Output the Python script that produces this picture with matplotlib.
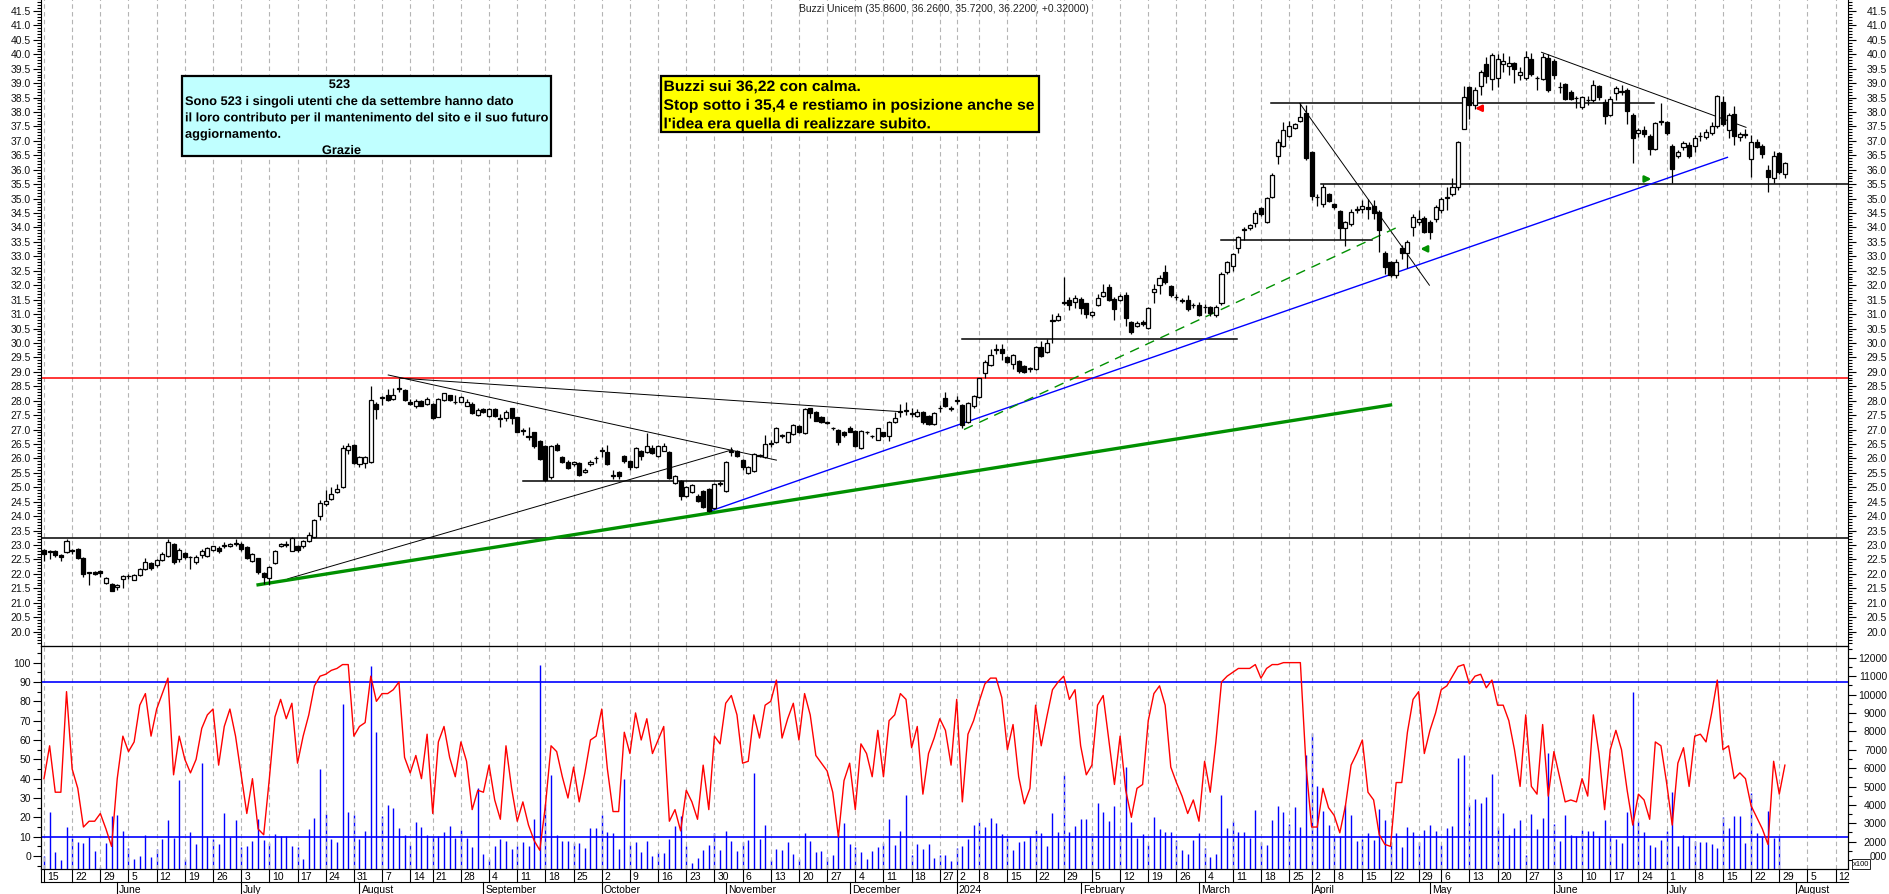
import numpy as np
import pandas as pd
import matplotlib
matplotlib.use("Agg")
import matplotlib.pyplot as plt
from matplotlib import transforms
from matplotlib.lines import Line2D
from matplotlib.patches import Rectangle, PathPatch
from matplotlib.textpath import TextPath
from matplotlib.font_manager import FontProperties

# ---- data ----
holidays = ["2023-08-15", "2023-12-25", "2023-12-26", "2024-01-01",
            "2024-03-29", "2024-04-01", "2024-05-01"]

opens = [
    22.83, 22.78, 22.78, 22.65, 22.75, 22.81, 22.86, 22.55, 22.03, 22.07,
    22.09, 21.69, 21.65, 21.53, 21.83, 21.92, 21.80, 21.96, 22.17, 22.38,
    22.31, 22.49, 22.63, 23.04, 22.52, 22.72, 22.57, 22.40, 22.66, 22.61,
    22.81, 22.90, 22.98, 22.96, 23.04, 23.04, 22.92, 22.46, 22.54, 22.02,
    21.85, 22.38, 22.97, 23.00, 22.80, 22.95, 22.98, 23.15, 23.27, 24.02,
    24.42, 24.60, 24.83, 25.00, 26.29, 26.47, 25.81, 25.83, 25.89, 27.89,
    28.10, 28.18, 28.06, 28.41, 28.37, 27.97, 27.80, 27.99, 27.89, 27.89,
    27.45, 28.03, 28.18, 27.95, 27.97, 27.83, 27.89, 27.52, 27.71, 27.48,
    27.71, 27.37, 27.39, 27.73, 27.42, 26.98, 26.79, 26.90, 26.61, 26.42,
    25.34, 26.46, 26.04, 25.86, 25.79, 25.84, 25.52, 25.79, 26.00, 26.27,
    26.21, 25.40, 25.52, 26.07, 25.92, 25.69, 26.27, 26.23, 26.35, 26.07,
    26.27, 26.21, 25.15, 25.23, 24.69, 24.82, 24.71, 24.88, 24.94, 24.27,
    25.11, 24.88, 26.23, 26.24, 25.94, 25.49, 25.57, 26.10, 26.04, 26.50,
    26.58, 26.79, 26.56, 26.85, 27.13, 26.87, 27.73, 27.60, 27.45, 27.23,
    27.04, 26.98, 26.93, 27.04, 26.96, 26.35, 26.90, 26.76, 26.65, 26.90,
    26.79, 27.25, 27.62, 27.65, 27.54, 27.46, 27.60, 27.48, 27.19, 27.73,
    28.08, 27.71, 28.00, 27.85, 27.25, 27.80, 28.12, 28.96, 29.24, 29.77,
    29.79, 29.50, 29.27, 29.38, 29.21, 29.08, 29.09, 29.85, 29.70, 30.75,
    30.81, 31.38, 31.50, 31.41, 31.52, 31.37, 30.97, 31.32, 31.62, 31.93,
    31.52, 31.50, 31.66, 30.72, 30.60, 30.72, 30.51, 31.78, 31.99, 32.45,
    31.96, 31.58, 31.47, 31.50, 31.30, 31.30, 31.24, 31.24, 30.97, 31.37,
    32.45, 32.68, 33.28, 33.93, 33.97, 34.15, 34.68, 34.18, 35.05, 36.47,
    36.81, 37.18, 37.44, 37.70, 37.97, 36.60, 35.05, 34.82, 35.16, 34.82,
    34.58, 33.97, 34.12, 34.62, 34.65, 34.70, 34.75, 34.55, 33.10, 32.80,
    32.35, 33.30, 33.10, 34.01, 34.20, 34.32, 34.20, 34.30, 34.59, 35.02,
    35.16, 35.39, 37.42, 38.86, 38.25, 38.90, 39.67, 39.15, 39.17, 39.67,
    39.61, 39.70, 39.29, 39.17, 39.84, 39.17, 39.15, 39.86, 39.78, 38.86,
    38.97, 38.71, 38.48, 38.17, 38.40, 38.40, 38.89, 38.36, 37.88, 38.66,
    38.71, 38.78, 37.90, 37.27, 37.38, 37.18, 36.72, 37.67, 37.67, 36.84,
    36.47, 36.78, 36.87, 36.84, 37.16, 37.13, 37.28, 37.51, 38.36, 37.39,
    37.94, 37.13, 37.22, 36.38, 36.95, 36.84, 36.00, 35.71, 36.57, 35.86,
]
highs = [
    22.87, 22.82, 22.82, 22.70, 23.22, 22.87, 22.90, 22.58, 22.06, 22.10,
    22.15, 21.90, 21.68, 21.65, 21.96, 22.00, 22.00, 22.20, 22.55, 22.40,
    22.52, 22.75, 23.20, 23.06, 22.88, 22.76, 22.62, 22.65, 22.85, 22.94,
    22.98, 22.95, 23.12, 23.08, 23.22, 23.12, 22.95, 22.72, 22.56, 22.05,
    22.28, 22.82, 23.08, 23.14, 23.26, 23.00, 23.18, 23.45, 23.90, 24.55,
    24.90, 25.00, 25.10, 26.45, 26.55, 26.50, 26.08, 26.08, 28.50, 27.95,
    28.15, 28.40, 28.45, 28.78, 28.40, 28.05, 28.05, 28.02, 28.12, 27.92,
    28.10, 28.28, 28.20, 28.18, 28.15, 28.05, 27.95, 27.75, 27.74, 27.74,
    27.74, 27.55, 27.66, 27.75, 27.45, 27.05, 27.10, 26.93, 26.63, 26.45,
    26.45, 26.55, 26.08, 25.95, 25.92, 25.88, 25.65, 25.95, 26.10, 26.40,
    26.45, 25.60, 25.55, 26.12, 25.95, 26.38, 26.30, 26.88, 26.45, 26.45,
    26.55, 26.24, 25.42, 25.26, 25.05, 25.12, 24.75, 24.92, 24.98, 25.15,
    25.20, 25.92, 26.40, 26.30, 25.97, 25.72, 26.18, 26.15, 26.80, 26.65,
    27.08, 26.85, 26.93, 27.20, 27.16, 27.75, 27.76, 27.63, 27.48, 27.28,
    27.10, 27.01, 26.96, 27.12, 26.99, 26.99, 26.95, 26.82, 27.07, 26.93,
    27.28, 27.60, 27.90, 27.95, 27.75, 27.70, 27.63, 27.51, 27.60, 27.85,
    28.30, 27.80, 28.15, 27.88, 27.95, 28.18, 28.80, 29.40, 29.78, 29.95,
    29.95, 29.55, 29.62, 29.42, 29.25, 29.18, 29.90, 30.05, 30.13, 31.00,
    31.05, 32.27, 31.58, 31.65, 31.58, 31.40, 31.10, 31.70, 32.05, 32.05,
    31.60, 31.70, 31.75, 30.75, 30.75, 30.78, 31.25, 32.05, 32.35, 32.70,
    32.00, 31.70, 31.55, 31.65, 31.40, 31.42, 31.35, 31.28, 31.30, 32.45,
    32.85, 33.12, 33.72, 34.00, 34.12, 34.60, 34.72, 35.06, 35.88, 37.05,
    37.65, 37.70, 37.62, 38.30, 38.25, 36.65, 35.15, 35.50, 35.20, 34.85,
    34.62, 34.22, 34.65, 34.75, 34.95, 35.00, 34.95, 34.60, 33.20, 32.85,
    32.90, 33.40, 33.55, 34.45, 34.60, 34.40, 34.25, 34.78, 35.05, 35.40,
    35.70, 37.00, 38.90, 38.90, 38.85, 39.45, 39.90, 40.05, 40.00, 40.05,
    39.95, 39.75, 39.55, 40.10, 40.05, 39.25, 40.05, 40.00, 39.85, 39.05,
    39.00, 38.75, 38.55, 38.55, 38.55, 39.10, 38.95, 38.45, 38.55, 38.90,
    38.95, 38.82, 37.95, 37.45, 37.50, 37.25, 37.65, 38.30, 37.70, 36.90,
    36.70, 37.00, 36.95, 37.20, 37.30, 37.40, 37.65, 38.60, 38.55, 37.95,
    38.20, 37.30, 37.40, 37.20, 37.05, 36.90, 36.15, 36.65, 36.60, 36.26,
]
lows = [
    22.43, 22.50, 22.60, 22.46, 22.72, 22.70, 22.50, 21.90, 21.62, 21.95,
    21.90, 21.65, 21.40, 21.45, 21.50, 21.83, 21.78, 21.92, 22.15, 22.12,
    22.25, 22.45, 22.60, 22.35, 22.40, 22.50, 22.17, 22.35, 22.55, 22.58,
    22.78, 22.72, 22.90, 22.92, 22.98, 22.80, 22.50, 22.40, 22.00, 21.65,
    21.60, 22.35, 22.92, 22.92, 22.78, 22.75, 22.90, 23.12, 23.25, 23.85,
    24.35, 24.55, 24.80, 24.98, 26.15, 25.80, 25.70, 25.68, 25.85, 27.35,
    27.85, 28.00, 28.02, 28.30, 27.98, 27.85, 27.75, 27.80, 27.85, 27.35,
    27.42, 28.00, 28.00, 27.90, 27.94, 27.80, 27.54, 27.48, 27.57, 27.45,
    27.45, 27.10, 27.30, 27.20, 26.90, 26.80, 26.65, 26.35, 25.95, 25.22,
    25.30, 26.25, 25.85, 25.62, 25.75, 25.40, 25.48, 25.75, 25.85, 26.05,
    25.78, 25.30, 25.30, 25.85, 25.60, 25.66, 25.95, 26.20, 26.15, 26.04,
    26.24, 25.28, 25.12, 24.55, 24.66, 24.80, 24.50, 24.28, 24.15, 24.24,
    25.05, 24.85, 26.10, 26.04, 25.60, 25.45, 25.54, 26.05, 26.00, 26.40,
    26.55, 26.70, 26.53, 26.82, 26.87, 26.84, 27.40, 27.28, 27.24, 27.18,
    26.98, 26.45, 26.75, 26.90, 26.38, 26.32, 26.85, 26.70, 26.62, 26.73,
    26.60, 27.22, 27.45, 27.50, 27.45, 27.42, 27.20, 27.16, 27.16, 27.60,
    27.77, 27.65, 27.90, 27.05, 27.22, 27.75, 28.10, 28.80, 29.20, 29.60,
    29.40, 29.30, 29.10, 28.95, 28.95, 29.00, 29.05, 29.52, 29.65, 30.00,
    30.75, 31.30, 31.15, 31.20, 31.00, 30.85, 30.90, 31.28, 31.58, 31.45,
    30.80, 31.45, 30.60, 30.30, 30.55, 30.60, 30.48, 31.40, 31.70, 32.05,
    31.60, 31.50, 31.40, 31.10, 31.20, 30.92, 31.05, 30.95, 30.90, 31.33,
    32.40, 32.50, 33.10, 33.55, 33.90, 34.00, 34.40, 34.15, 35.02, 36.20,
    36.78, 37.15, 37.40, 37.65, 36.35, 34.95, 34.75, 34.70, 34.88, 34.65,
    33.60, 33.37, 34.05, 34.50, 34.50, 34.30, 34.30, 33.15, 32.40, 32.30,
    32.25, 32.90, 32.60, 33.70, 34.10, 33.80, 33.60, 34.20, 34.50, 34.60,
    35.10, 35.30, 37.40, 37.75, 38.10, 38.60, 39.00, 38.75, 38.85, 39.40,
    39.30, 39.00, 39.10, 39.10, 39.25, 38.75, 39.10, 38.70, 39.15, 38.65,
    38.40, 38.40, 38.15, 38.10, 38.25, 38.35, 38.40, 37.60, 37.85, 38.40,
    38.60, 37.60, 36.25, 37.15, 37.15, 36.50, 36.70, 37.55, 37.20, 35.55,
    36.40, 36.70, 36.40, 36.60, 37.00, 37.05, 37.20, 37.45, 37.50, 37.10,
    36.85, 37.00, 37.10, 35.75, 36.75, 36.40, 35.22, 35.55, 35.85, 35.72,
]
closes = [
    22.69, 22.75, 22.67, 22.60, 23.15, 22.80, 22.55, 22.00, 22.03, 22.00,
    22.02, 21.85, 21.42, 21.60, 21.94, 21.92, 21.96, 22.17, 22.40, 22.20,
    22.49, 22.69, 23.10, 22.40, 22.84, 22.57, 22.57, 22.60, 22.78, 22.90,
    22.95, 22.78, 22.98, 23.04, 23.04, 22.86, 22.54, 22.69, 22.06, 21.90,
    22.23, 22.78, 23.04, 23.00, 23.23, 22.84, 23.13, 23.33, 23.85, 24.45,
    24.54, 24.77, 24.94, 26.36, 26.42, 25.84, 26.04, 26.04, 28.03, 27.72,
    28.10, 28.04, 28.18, 28.41, 28.03, 27.88, 27.99, 27.83, 28.06, 27.39,
    28.06, 28.26, 28.03, 27.95, 28.12, 27.97, 27.58, 27.69, 27.60, 27.71,
    27.48, 27.37, 27.62, 27.39, 26.93, 26.96, 26.73, 26.44, 25.98, 25.25,
    26.42, 26.30, 25.89, 25.67, 25.89, 25.44, 25.61, 25.89, 26.00, 26.27,
    25.81, 25.40, 25.38, 25.92, 25.69, 26.35, 26.10, 26.42, 26.18, 26.42,
    26.44, 25.31, 25.38, 24.71, 25.00, 25.08, 24.54, 24.30, 24.19, 25.11,
    25.11, 25.89, 26.23, 26.07, 25.69, 25.69, 26.15, 26.10, 26.50, 26.50,
    27.04, 26.79, 26.90, 27.16, 26.90, 27.71, 27.57, 27.31, 27.27, 27.23,
    27.04, 26.58, 26.81, 26.93, 26.42, 26.96, 26.90, 26.76, 27.04, 26.76,
    27.25, 27.39, 27.62, 27.65, 27.54, 27.62, 27.25, 27.19, 27.56, 27.73,
    27.80, 27.71, 28.00, 27.16, 27.92, 28.15, 28.77, 29.33, 29.58, 29.77,
    29.65, 29.35, 29.58, 29.04, 29.00, 29.14, 29.85, 29.56, 29.99, 30.78,
    30.95, 31.43, 31.30, 31.55, 31.20, 31.00, 31.06, 31.55, 31.78, 31.50,
    31.18, 31.62, 30.85, 30.39, 30.69, 30.66, 31.20, 31.87, 32.24, 32.10,
    31.66, 31.58, 31.47, 31.18, 31.30, 30.97, 31.24, 31.04, 31.24, 32.39,
    32.79, 33.08, 33.68, 33.93, 34.09, 34.49, 34.45, 35.02, 35.83, 36.95,
    37.39, 37.50, 37.59, 37.82, 36.40, 35.10, 35.05, 35.39, 34.91, 34.70,
    33.97, 34.18, 34.53, 34.62, 34.75, 34.65, 34.50, 33.90, 32.62, 32.35,
    32.80, 33.10, 33.50, 34.36, 34.30, 33.86, 33.86, 34.70, 35.00, 35.02,
    35.40, 36.95, 38.51, 38.25, 38.78, 39.40, 39.26, 39.98, 39.82, 39.78,
    39.70, 39.50, 39.40, 39.90, 39.32, 39.17, 39.90, 38.78, 39.29, 38.86,
    38.46, 38.46, 38.48, 38.51, 38.40, 38.94, 38.51, 37.85, 38.46, 38.82,
    38.71, 38.05, 37.09, 37.38, 37.24, 36.72, 37.61, 37.67, 37.28, 36.03,
    36.63, 36.93, 36.47, 37.10, 37.16, 37.30, 37.51, 38.57, 37.59, 37.88,
    37.16, 37.24, 37.22, 36.95, 36.78, 36.55, 35.74, 36.47, 35.91, 36.22,
]

# oscillator (left scale 0-100)
oscillator = [
    40, 57, 33, 33, 85, 45, 35, 15, 18, 18, 22, 14, 5, 40, 62, 54, 59, 78, 84, 62,
    76, 84, 92, 42, 62, 50, 43, 50, 66, 73, 76, 47, 67, 76, 62, 42, 22, 40, 14, 11,
    40, 72, 81, 71, 79, 48, 62, 73, 88, 93, 94, 96, 97, 99, 99, 62, 67, 69, 93, 80,
    84, 84, 86, 90, 51, 43, 52, 40, 63, 22, 59, 67, 51, 41, 59, 49, 24, 34, 33, 47,
    29, 19, 57, 35, 18, 28, 16, 8, 3, 26, 57, 54, 41, 30, 46, 28, 43, 60, 62, 76,
    45, 23, 23, 64, 53, 74, 60, 71, 53, 60, 67, 18, 24, 13, 34, 28, 19, 47, 24, 62,
    58, 79, 83, 73, 48, 49, 73, 61, 78, 80, 91, 61, 71, 79, 60, 84, 73, 52, 48, 44,
    33, 10, 39, 48, 24, 58, 53, 41, 65, 41, 70, 73, 84, 81, 56, 67, 32, 53, 61, 71,
    65, 47, 81, 28, 63, 70, 80, 89, 92, 92, 82, 55, 68, 41, 27, 35, 78, 57, 72, 86,
    90, 93, 81, 86, 57, 42, 47, 78, 83, 60, 37, 62, 34, 20, 35, 37, 70, 84, 88, 78,
    46, 38, 31, 22, 29, 18, 49, 33, 59, 90, 93, 95, 97, 97, 97, 99, 92, 97, 99, 99,
    100, 100, 100, 100, 47, 15, 15, 35, 25, 21, 12, 26, 47, 53, 60, 33, 29, 11, 6, 5,
    38, 38, 64, 81, 85, 53, 65, 74, 86, 88, 93, 98, 99, 89, 93, 94, 87, 91, 78, 78,
    70, 55, 36, 73, 36, 32, 68, 31, 54, 41, 28, 29, 28, 40, 31, 73, 53, 24, 55, 65,
    55, 34, 16, 32, 29, 19, 59, 57, 38, 16, 48, 56, 36, 62, 63, 59, 74, 91, 55, 57,
    40, 43, 40, 26, 20, 14, 6, 49, 32, 47,
]

# volume (right scale, x100)
volume = [
    1236, 3595, 1417, 1018, 2779, 2198, 1998, 1926, 2270, 1490,
    600, 1926, 3414, 3450, 2579, 1635, 1054, 1200, 2361, 1145,
    1599, 2143, 3178, 2180, 5356, 1054, 2543, 1871, 6282, 2289,
    2143, 1871, 3559, 2270, 3178, 1708, 1780, 2053, 3232, 2089,
    1926, 2416, 2325, 2289, 1762, 1708, 1054, 2688, 3287, 5955,
    3523, 2143, 1962, 9494, 3632, 3468, 2143, 2579, 11581, 7970,
    3414, 3995, 3831, 2742, 2361, 1835, 3087, 2815, 2379, 2289,
    2307, 2543, 2833, 2198, 2634, 2198, 1708, 4920, 1327, 1054,
    1780, 2143, 2053, 1599, 1780, 1998, 1744, 3232, 11618, 4049,
    5628, 2361, 2053, 2053, 1926, 1926, 1653, 2742, 2742, 3468,
    2543, 2452, 1599, 5410, 1817, 1962, 1454, 2035, 1236, 1454,
    1381, 2143, 2833, 3414, 1780, 837, 1109, 1563, 1817, 2470,
    1563, 2579, 2053, 1508, 1998, 2089, 5737, 2143, 2906, 1018,
    1599, 1563, 1962, 1327, 1054, 2470, 2053, 1454, 1508, 1181,
    1272, 2416, 3015, 1871, 1690, 1454, 1054, 1508, 1690, 1926,
    3232, 1817, 2561, 4539, 1272, 1871, 1599, 1871, 1109, 1272,
    1272, 964, 1653, 1762, 2143, 2906, 3087, 2815, 3287, 3015,
    2416, 2198, 1563, 1998, 2053, 2325, 2634, 2488, 1762, 3559,
    2507, 5628, 2543, 2833, 3232, 3232, 2470, 4104, 3632, 3142,
    3958, 2470, 6082, 3087, 2198, 2416, 1817, 3360, 2688, 2543,
    2507, 2107, 1563, 1327, 2107, 2470, 1653, 1181, 1327, 4539,
    2742, 3142, 2543, 2543, 2198, 3723, 1998, 1817, 3178, 3958,
    3632, 2960, 3904, 2815, 6735, 7915, 5047, 3686, 2924, 2325,
    2325, 4013, 3468, 2053, 2143, 2470, 2107, 3777, 3196, 1962,
    2452, 1726, 2815, 2543, 1998, 2652, 2906, 2597, 1835, 2742,
    2870, 6536, 6717, 4013, 4322, 4086, 4449, 5683, 2815, 3559,
    2379, 2742, 3196, 1290, 3505, 2688, 3287, 6808, 2960, 2053,
    3450, 2361, 2325, 2634, 2579, 2597, 2325, 3178, 2325, 2143,
    1926, 3632, 10166, 3142, 2507, 1817, 1726, 2089, 2579, 4721,
    1762, 2361, 2325, 2053, 1998, 1998, 1871, 1635, 3360, 2742,
    3414, 3414, 1926, 4648, 2470, 2234, 3686, 2198, 2325, 500,
]

title = "Buzzi Unicem (35.8600, 36.2600, 35.7200, 36.2200, +0.32000)"
cyan_lines = ["Sono 523 i singoli utenti che da settembre hanno dato",
              "il loro contributo per il mantenimento del sito e il suo futuro",
              "aggiornamento."]
yellow_lines = ["Buzzi sui 36,22 con calma.",
                "Stop sotto i 35,4 e restiamo in posizione anche se",
                "l'idea era quella di realizzare subito."]

# ---- layout helpers (pixels of the 1890x895 image) ----
W, H = 1890, 895
def fx(px):
    return px / W
def fy(py):
    return 1 - py / H

plt.rcParams['font.family'] = ['Liberation Sans', 'DejaVu Sans']
bold_fp = FontProperties(family='Liberation Sans', weight='bold')

# trading calendar
days = pd.bdate_range("2023-05-15", "2024-08-14")
days = days[~days.isin(pd.to_datetime(holidays))]
n_days = len(days)
week_idx = [i for i in range(n_days)
            if i == 0 or days[i].isocalendar()[1] != days[i - 1].isocalendar()[1]]
month_idx = [i for i in range(1, n_days) if days[i].month != days[i - 1].month]

fig = plt.figure(figsize=(18.9, 8.95), dpi=100)
L, R = 41, 1848
ax = fig.add_axes([fx(L), fy(647), (R - L) / W, 647 / H])
ax_osc = fig.add_axes([fx(L), fy(870), (R - L) / W, 223 / H])
ax_vol = ax_osc.twinx()
ax_osc.set_zorder(ax_vol.get_zorder() + 1)
ax_osc.patch.set_visible(False)

xlim = (-0.53, 320.2)
for a in (ax, ax_osc, ax_vol):
    a.set_xlim(*xlim)
    a.tick_params(axis='x', bottom=False, labelbottom=False)
    for s in a.spines.values():
        s.set_linewidth(0.8)
ax.spines['top'].set_visible(False)

ax.set_ylim(19.5, 41.916)
ax_osc.set_ylim(-6.7, 108.6)
ax_vol.set_ylim(510, 12650)

# weekly dashed gridlines
for k in week_idx:
    ax.axvline(k, color='#b4b4b4', lw=0.8, ls=(0, (4, 3)), zorder=0)
    ax_osc.axvline(k, color='#b4b4b4', lw=0.8, ls=(0, (4, 3)), zorder=0)

# ---- candles ----
o = np.array(opens); h = np.array(highs); l = np.array(lows); c = np.array(closes)
x = np.arange(len(o))
ax.vlines(x, l, h, color='black', lw=0.9, zorder=3)
body = np.maximum(np.abs(c - o), 0.02)
ax.bar(x, body, bottom=np.minimum(o, c), width=0.72,
       color=np.where(c >= o, 'white', 'black'), edgecolor='black',
       linewidth=0.9, zorder=4)

# horizontal levels
ax.axhline(28.78, color='red', lw=1.1, zorder=2)
ax.axhline(23.25, color='black', lw=1.1, zorder=2)
levels = [(217.8, 285.8, 38.3), (226.7, 320.2, 35.52), (209.0, 235.8, 33.55),
          (163.0, 211.8, 30.13), (85.0, 121.0, 25.23)]
for x0, x1, y0 in levels:
    ax.plot([x0, x1], [y0, y0], color='black', lw=1.1, zorder=2)

# trend lines
thin = [((43.3, 21.83), (122.2, 26.3)), ((61.1, 28.89), (130.0, 25.94)),
        ((63.2, 28.78), (151.9, 27.62)), ((222.9, 38.3), (245.9, 32.0)),
        ((265.8, 40.07), (302.1, 37.47))]
for (x0, y0), (x1, y1) in thin:
    ax.plot([x0, x1], [y0, y1], color='black', lw=0.7, zorder=2)
ax.plot([117.9, 298.8], [24.15, 36.43], color='#0000ff', lw=1.0, zorder=2)
ax.plot([163.3, 240.9], [27.0, 34.07], color='#009000', lw=1.0,
        ls=(0, (7, 5)), zorder=2)
ax.plot([38.0, 239.0], [21.62, 27.85], color='#009000', lw=2.4, zorder=2)

# little arrows
def arrow(xa, ya, color, left=True):
    d = 2.2 if left else -2.2
    ax.annotate('', xy=(xa - d / 2, ya), xytext=(xa + d / 2, ya),
                arrowprops=dict(arrowstyle='-|>', color=color, lw=1.8,
                                mutation_scale=9), zorder=6)
arrow(254.6, 38.13, 'red')
arrow(244.9, 33.26, '#009000')
arrow(284.7, 35.68, '#009000', left=False)

# ---- lower panel ----
ax_vol.vlines(x, 510, volume, color='#0000ff', lw=1.0)
ax_osc.plot(x, oscillator, color='red', lw=1.0, zorder=3)
ax_osc.axhline(90, color='#0000ff', lw=1.2, zorder=2)
ax_osc.axhline(10, color='#0000ff', lw=1.2, zorder=2)

# y ticks
ax.set_yticks(np.arange(20.0, 41.6, 0.5))
ax.set_yticks(np.arange(19.6, 41.95, 0.1), minor=True)
ax.tick_params(axis='y', which='both', left=True, right=True,
               labelleft=False, labelright=False, direction='out', width=0.8)
ax.tick_params(axis='y', which='major', length=6)
ax.tick_params(axis='y', which='minor', length=3)
ax_osc.set_yticks(np.arange(0, 101, 10))
ax_osc.set_yticks(np.arange(-5, 106, 5), minor=True)
ax_osc.tick_params(axis='y', which='both', left=True, right=False,
                   labelleft=False, labelright=False, width=0.8)
ax_osc.tick_params(axis='y', which='major', length=6)
ax_osc.tick_params(axis='y', which='minor', length=3)
ax_vol.set_yticks(np.arange(1000, 12001, 1000))
ax_vol.set_yticks(np.arange(1000, 12501, 500), minor=True)
ax_vol.tick_params(axis='y', which='both', right=True, labelright=False, width=0.8)
ax_vol.tick_params(axis='y', which='major', length=6)
ax_vol.tick_params(axis='y', which='minor', length=3)

lab = dict(fontsize=7.5, va='center', ha='right', color='#111111')
bt = transforms.blended_transform_factory(fig.transFigure, ax.transData)
for v in np.arange(20.0, 41.6, 0.5):
    fig.text(fx(31), v, f"{v:.1f}", transform=bt, **lab)
    fig.text(fx(1887), v, f"{v:.1f}", transform=bt, **lab)
bo = transforms.blended_transform_factory(fig.transFigure, ax_osc.transData)
for v in range(0, 101, 10):
    fig.text(fx(31), v, str(v), transform=bo, **lab)
bv = transforms.blended_transform_factory(fig.transFigure, ax_vol.transData)
for v in range(2000, 12001, 1000):
    fig.text(fx(1887), v, str(v), transform=bv, **lab)
# the 1000 label sits partly under the x100 tag, as in the original
fig.text(fx(1887), fy(857), '000', ha='right', va='center', fontsize=7.5,
         color='#111111')
fig.text(fx(1861), fy(865), 'x100', fontsize=5.5, ha='center', va='center',
         bbox=dict(boxstyle='square,pad=0.15', fc='white', ec='black', lw=0.6))

# ---- date rows ----
dt = transforms.blended_transform_factory(ax_osc.transData, fig.transFigure)
dt_day = transforms.offset_copy(dt, fig=fig, x=3, y=0, units='dots')
dt_mon = transforms.offset_copy(dt, fig=fig, x=2, y=0, units='dots')
for k in week_idx:
    fig.add_artist(Line2D([k, k], [fy(870), fy(883)], transform=dt,
                          color='black', lw=0.8))
    fig.text(k, fy(877), str(days[k].day), transform=dt_day, fontsize=7.5,
             ha='left', va='center')
for k in month_idx:
    fig.add_artist(Line2D([k, k], [fy(883), fy(895)], transform=dt,
                          color='black', lw=0.8))
    name = str(days[k].year) if days[k].month == 1 else days[k].strftime('%B')
    fig.text(k, fy(890), name, transform=dt_mon, fontsize=7.5,
             ha='left', va='center')
fig.add_artist(Line2D([fx(L), fx(R)], [fy(883), fy(883)],
                      transform=fig.transFigure, color='black', lw=0.8))
fig.add_artist(Line2D([fx(L), fx(L)], [fy(870), fy(883)],
                      transform=fig.transFigure, color='black', lw=0.8))

# ---- texts ----
fig.text(fx(944), fy(8.5), title, fontsize=7.5, ha='center', va='center',
         color='#222222')


def path_width(s, em):
    return TextPath((0, 0), s, size=em, prop=bold_fp).get_extents().width


def narrow_text(s, x_px, base_px, em, sx, ha='left'):
    # bold text squeezed sideways, like a narrow font
    tp = TextPath((0, 0), s, size=em, prop=bold_fp)
    if ha == 'center':
        x_px -= path_width(s, em) * sx / 2
    tr = transforms.Affine2D().scale(sx, 1).translate(x_px, H - base_px)
    fig.add_artist(PathPatch(tp, transform=tr, fc='black', ec='none', zorder=6))


fig.add_artist(Rectangle((fx(182), fy(157)), (551 - 182) / W, (157 - 77) / H,
                         transform=fig.transFigure, facecolor='#c0ffff',
                         edgecolor='black', lw=1.6, zorder=5))
em_c = 12.5
sx_c = 362 / path_width(cyan_lines[1], em_c)
narrow_text('523', 339, 89.0, em_c, sx_c, ha='center')
for j, line in enumerate(cyan_lines):
    narrow_text(line, 185, 106.0 + 16.4 * j, em_c, sx_c)
narrow_text('Grazie', 341, 155.0, em_c, sx_c, ha='center')

fig.add_artist(Rectangle((fx(660.5), fy(132.5)), (1039 - 660.5) / W,
                         (132.5 - 77) / H, transform=fig.transFigure,
                         facecolor='#ffff00', edgecolor='black', lw=1.6, zorder=5))
em_y = 15.0
sx_y = 370 / path_width(yellow_lines[1], em_y)
for j, line in enumerate(yellow_lines):
    narrow_text(line, 663.5, 92.0 + 18.7 * j, em_y, sx_y)

fig.savefig("out.png", dpi=100)
